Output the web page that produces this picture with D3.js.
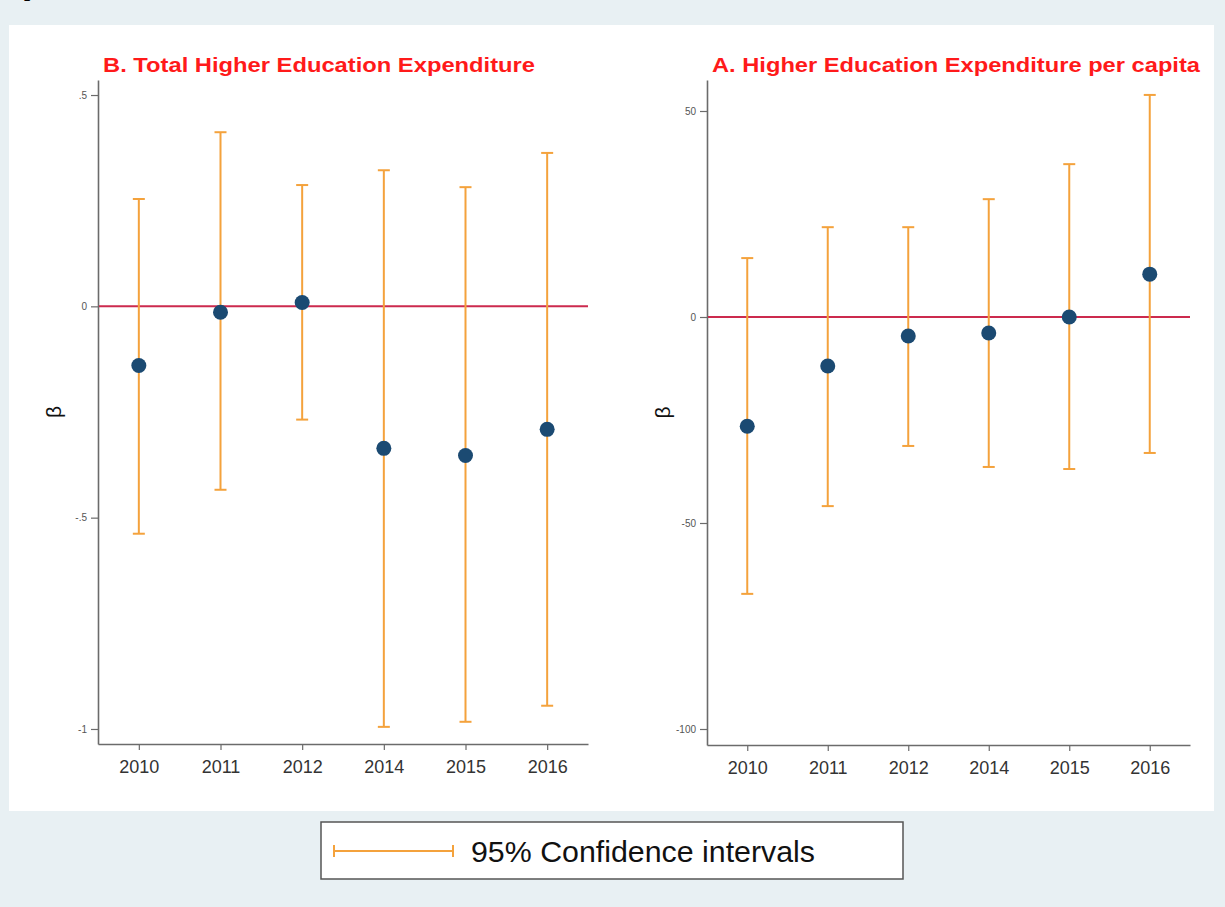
<!DOCTYPE html>
<html>
<head>
<meta charset="utf-8">
<script src="https://cdn.jsdelivr.net/npm/d3@7"></script>
<style>
  body { margin: 0; background: #e8f0f3; }
  text { font-family: "Liberation Sans", Arial, sans-serif; }
</style>
</head>
<body>
<div id="chart"></div>
<script>
(function () {
    var width = 1225,
        height = 907;

    // years on the x axis (2013 is missing in the source)
    var years = ["2010", "2011", "2012", "2014", "2015", "2016"];

    // panel B: total expenditure
    var totalCoef  = [-0.14, -0.014, 0.009, -0.336, -0.353, -0.291];
    var totalLow   = [-0.538, -0.434, -0.268, -0.995, -0.983, -0.945];
    var totalHigh  = [0.254, 0.412, 0.287, 0.322, 0.282, 0.363];
    var totalTicks = [-1, -0.5, 0, 0.5];

    // panel A: per capita
    var capCoef  = [-26.5, -11.9, -4.6, -3.9, 0.0, 10.4];
    var capLow   = [-67.2, -45.9, -31.3, -36.4, -36.9, -33.0];
    var capHigh  = [14.3, 21.8, 21.8, 28.6, 37.1, 53.9];
    var capTicks = [-100, -50, 0, 50];

    var orange = "#f4a23c",
        navy = "#1b4a72",
        crimson = "#cc2a4e",
        axisCol = "#6b6b6b";

    var svg = d3.select("#chart")
        .append("svg")
        .attr("width", width)
        .attr("height", height);

    svg.append("rect")
        .attr("width", width).attr("height", height)
        .attr("fill", "#e8f0f3");

    // bit of the heading above, cut off at the top edge (as in the source)
    svg.append("text")
        .attr("x", 24).attr("y", -4)
        .style("font-family", "'Liberation Serif', serif")
        .style("font-weight", "bold")
        .style("font-size", "22px")
        .text("p");

    svg.append("rect")
        .attr("x", 9).attr("y", 25)
        .attr("width", 1205).attr("height", 786)
        .attr("fill", "#ffffff");

    function panel(opt) {
        var g = svg.append("g");

        var x = d3.scalePoint()
            .domain(years)
            .range([opt.left, opt.right])
            .padding(0.5);

        var y = d3.scaleLinear()
            .domain(opt.ydomain)
            .range([opt.bottom, opt.top]);

        var rows = years.map(function (yr, i) {
            return { year: yr, b: opt.coef[i], lo: opt.low[i], hi: opt.high[i] };
        });

        // title
        g.append("text")
            .attr("x", opt.left + 5)
            .attr("y", 72)
            .attr("fill", "#ff1a1a")
            .style("font-weight", "bold")
            .style("font-size", "21px")
            .attr("textLength", opt.titleLen)
            .attr("lengthAdjust", "spacingAndGlyphs")
            .text(opt.title);

        // y axis
        var yAxis = d3.axisLeft(y)
            .tickValues(opt.ticks)
            .tickSize(7)
            .tickSizeOuter(0)
            .tickFormat(opt.fmt);

        var ya = g.append("g")
            .attr("transform", "translate(" + opt.left + ",0)")
            .call(yAxis);
        ya.select(".domain").attr("stroke", axisCol).attr("stroke-width", 1.6);
        ya.selectAll(".tick line").attr("stroke", axisCol).attr("stroke-width", 1.2);
        ya.selectAll(".tick text")
            .attr("fill", "#555")
            .style("font-size", "10px")
            .attr("x", -11);

        // x axis
        var xAxis = d3.axisBottom(x)
            .tickSize(6)
            .tickSizeOuter(0);

        var xa = g.append("g")
            .attr("transform", "translate(0," + opt.bottom + ")")
            .call(xAxis);
        xa.select(".domain").attr("stroke", axisCol).attr("stroke-width", 1.6);
        xa.selectAll(".tick line").attr("stroke", axisCol).attr("stroke-width", 1.2);
        xa.selectAll(".tick text")
            .attr("fill", "#333")
            .style("font-size", "18px")
            .attr("y", 16);

        // beta label
        g.append("text")
            .attr("transform", "translate(" + (opt.left - 37) + "," + ((opt.top + opt.bottom) / 2) + ") rotate(-90)")
            .attr("text-anchor", "middle")
            .style("font-size", "21px")
            .attr("fill", "#111")
            .text("β");

        // zero line
        g.append("line")
            .attr("x1", opt.left + 1).attr("x2", opt.right)
            .attr("y1", y(0)).attr("y2", y(0))
            .attr("stroke", crimson)
            .attr("stroke-width", 2);

        // confidence intervals
        var ci = g.selectAll(".ci")
            .data(rows)
            .enter().append("g")
            .attr("class", "ci");

        ci.append("line")
            .attr("x1", function (d) { return x(d.year); })
            .attr("x2", function (d) { return x(d.year); })
            .attr("y1", function (d) { return y(d.lo); })
            .attr("y2", function (d) { return y(d.hi); })
            .attr("stroke", orange)
            .attr("stroke-width", 2);

        ["lo", "hi"].forEach(function (k) {
            ci.append("line")
                .attr("x1", function (d) { return x(d.year) - 6; })
                .attr("x2", function (d) { return x(d.year) + 6; })
                .attr("y1", function (d) { return y(d[k]); })
                .attr("y2", function (d) { return y(d[k]); })
                .attr("stroke", orange)
                .attr("stroke-width", 2);
        });

        // point estimates
        g.selectAll(".pt")
            .data(rows)
            .enter().append("circle")
            .attr("class", "pt")
            .attr("cx", function (d) { return x(d.year); })
            .attr("cy", function (d) { return y(d.b); })
            .attr("r", 7.5)
            .attr("fill", navy);
    }

    panel({
        title: "B. Total Higher Education Expenditure",
        titleLen: 432,
        left: 98, right: 588, top: 80, bottom: 744,
        ydomain: [-1 - 15 / 422, 0.5 + 15 / 422],
        ticks: totalTicks,
        fmt: function (v) { return v === 0 ? "0" : String(v).replace("0.", "."); },
        coef: totalCoef, low: totalLow, high: totalHigh
    });

    panel({
        title: "A. Higher Education Expenditure per capita",
        titleLen: 488,
        left: 707, right: 1190, top: 80, bottom: 745,
        ydomain: [-100 - 16 / 4.12, 50 + 31 / 4.12],
        ticks: capTicks,
        fmt: function (v) { return String(v); },
        coef: capCoef, low: capLow, high: capHigh
    });

    // legend
    var leg = svg.append("g");
    leg.append("rect")
        .attr("x", 321).attr("y", 822)
        .attr("width", 582).attr("height", 57)
        .attr("fill", "#fff")
        .attr("stroke", "#555")
        .attr("stroke-width", 1.5);
    leg.append("line")
        .attr("x1", 334).attr("x2", 453)
        .attr("y1", 851).attr("y2", 851)
        .attr("stroke", orange).attr("stroke-width", 2);
    [334, 453].forEach(function (lx) {
        leg.append("line")
            .attr("x1", lx).attr("x2", lx)
            .attr("y1", 845).attr("y2", 857)
            .attr("stroke", orange).attr("stroke-width", 2);
    });
    leg.append("text")
        .attr("x", 471).attr("y", 862)
        .attr("fill", "#111")
        .style("font-size", "29px")
        .attr("textLength", 344)
        .attr("lengthAdjust", "spacingAndGlyphs")
        .text("95% Confidence intervals");
})();
</script>
</body>
</html>
